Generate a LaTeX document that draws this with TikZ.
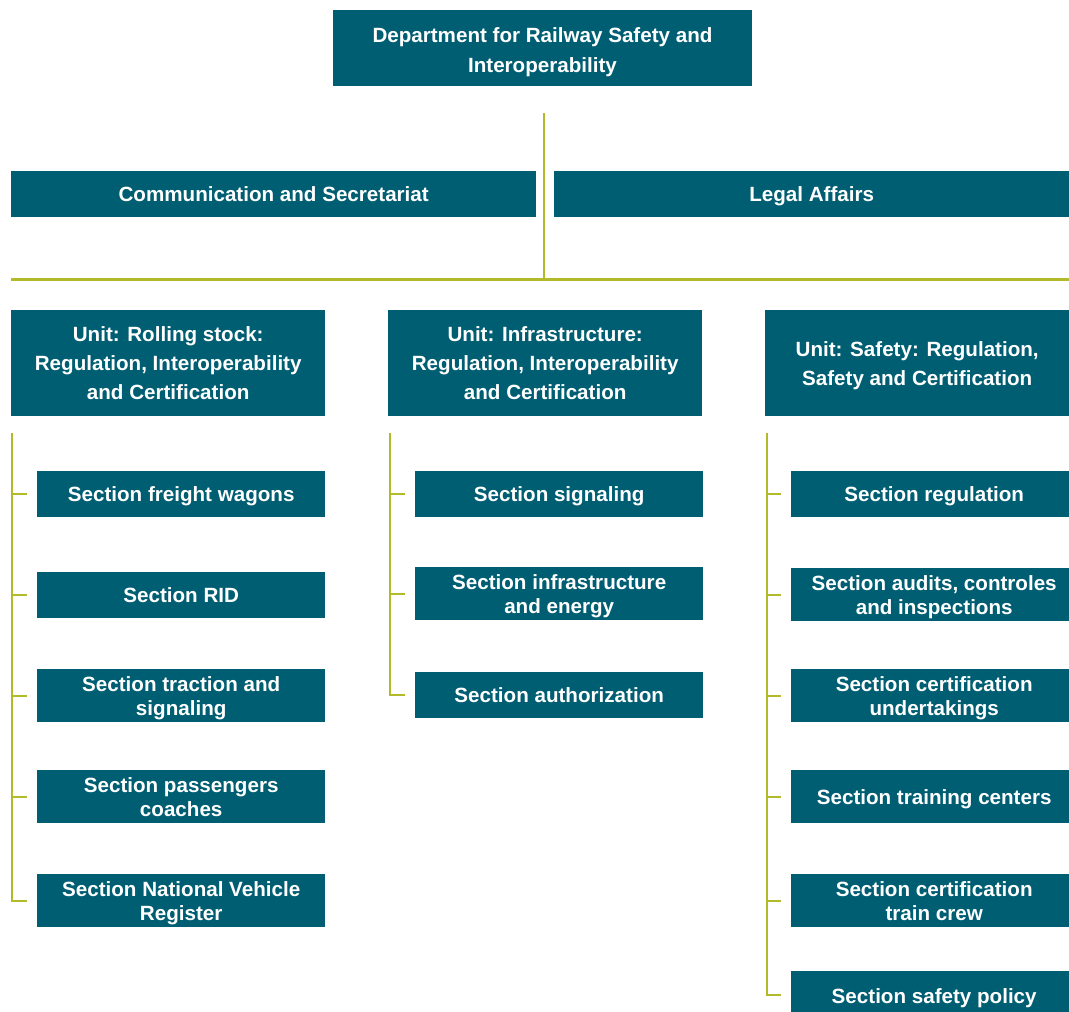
\documentclass[tikz,border=0pt]{standalone}
\usepackage{fontspec}
\setmainfont{Liberation Sans}
\definecolor{teal}{HTML}{005E73}
\definecolor{olive}{HTML}{B3BA2A}
\begin{document}
\begin{tikzpicture}[x=1pt,y=-1pt,
  box/.style={fill=teal, text=white, font=\bfseries\fontsize{20.6}{24}\selectfont, align=center, anchor=north west, inner sep=0pt, text depth=0pt},
  one/.style={text height=15pt},
  unitbox/.style={box, font=\bfseries\fontsize{20.6}{29}\selectfont},
  conn/.style={draw=olive, line width=2.3pt},
  hconn/.style={draw=olive, line width=3pt}]
\useasboundingbox (0,0) rectangle (1069,1012);
% top
\fill[teal] (333,10) rectangle (752,86);
\node[unitbox, fill=none, font=\bfseries\fontsize{20.6}{30}\selectfont, anchor=center] (top) at (542.5,50) {Department for Railway Safety and\\Interoperability};
\node[box, one, minimum width=525pt, minimum height=46pt] (comm) at (11,171) {Communication and Secretariat};
\node[box, one, minimum width=515pt, minimum height=46pt] (legal) at (554,171) {Legal Affairs};
% units
\node[unitbox, minimum width=314pt, minimum height=106pt] (u1) at (11,310) {Unit: Rolling stock:\\Regulation, Interoperability\\and Certification};
\node[unitbox, minimum width=314pt, minimum height=106pt] (u2) at (388,310) {Unit: Infrastructure:\\Regulation, Interoperability\\and Certification};
\node[unitbox, minimum width=304pt, minimum height=106pt] (u3) at (765,310) {Unit: Safety: Regulation,\\Safety and Certification};
% left sections
\node[box, one, minimum width=288pt, minimum height=46pt] (l1) at (37,471) {Section freight wagons};
\node[box, one, minimum width=288pt, minimum height=46pt] (l2) at (37,572) {Section RID};
\node[box, minimum width=288pt, minimum height=53pt] (l3) at (37,669) {Section traction and\\signaling};
\node[box, minimum width=288pt, minimum height=53pt] (l4) at (37,770) {Section passengers\\coaches};
\node[box, minimum width=288pt, minimum height=53pt] (l5) at (37,874) {Section National Vehicle\\Register};
% middle sections
\node[box, one, minimum width=288pt, minimum height=46pt] (m1) at (415,471) {Section signaling};
\node[box, minimum width=288pt, minimum height=53pt] (m2) at (415,567) {Section infrastructure\\and energy};
\node[box, one, minimum width=288pt, minimum height=46pt] (m3) at (415,672) {Section authorization};
% right sections
\node[box, one, minimum width=278pt, minimum height=46pt] (r1) at (791,471) {\hspace*{8pt}Section regulation};
\node[box, minimum width=278pt, minimum height=53pt] (r2) at (791,568) {\hspace*{8pt}Section audits, controles\\\hspace*{8pt}and inspections};
\node[box, minimum width=278pt, minimum height=53pt] (r3) at (791,669) {\hspace*{8pt}Section certification\\\hspace*{8pt}undertakings};
\node[box, one, minimum width=278pt, minimum height=53pt] (r4) at (791,770) {\hspace*{8pt}Section training centers};
\node[box, minimum width=278pt, minimum height=53pt] (r5) at (791,874) {\hspace*{8pt}Section certification\\\hspace*{8pt}train crew};
\node[box, one, minimum width=278pt, minimum height=41pt, text height=24pt] (r6) at (791,971) {\hspace*{8pt}Section safety policy};
% connectors
\coordinate (tl) at (544,113);
\coordinate (hub) at (544,279);
\coordinate (hl) at (11,279);
\coordinate (hr) at (1069,279);
\draw[conn] (tl) -- (hub);
\draw[hconn] (hl) -- (hr);
\coordinate (ls) at (12,433);
\coordinate (ms) at (390,433);
\coordinate (rs) at (767,433);
\draw[conn] (ls) |- ([xshift=-10pt]l5.west);
\foreach \n in {l1,l2,l3,l4} \draw[conn] (ls |- \n.west) -- ([xshift=-10pt]\n.west);
\draw[conn] (ms) |- ([xshift=-10pt]m3.west);
\foreach \n in {m1,m2} \draw[conn] (ms |- \n.west) -- ([xshift=-10pt]\n.west);
\draw[conn] (rs) |- ([xshift=-10pt,yshift=-3pt]r6.west);
\foreach \n in {r1,r2,r3,r4,r5} \draw[conn] (rs |- \n.west) -- ([xshift=-10pt]\n.west);
\end{tikzpicture}
\end{document}
